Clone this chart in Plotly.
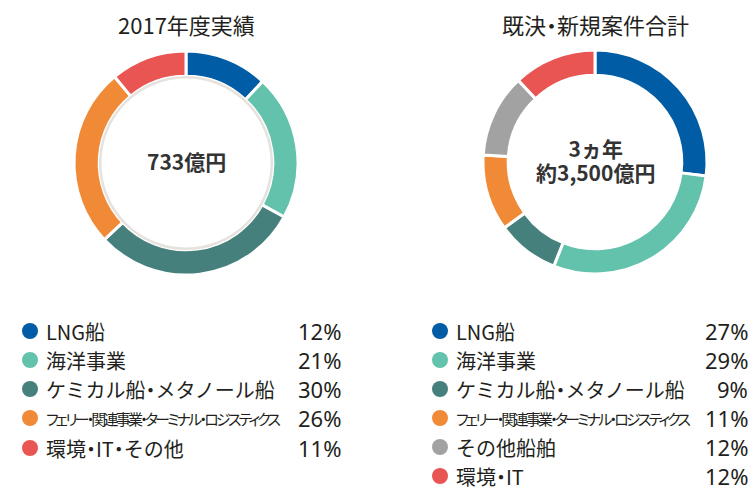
import plotly.graph_objects as go

W, H = 756, 490

# Segment data
cats_2017 = ["LNG船", "海洋事業", "ケミカル船・メタノール船",
             "フェリー・関連事業・ターミナル・ロジスティクス", "環境・IT・その他"]
vals_2017 = [12, 21, 30, 26, 11]
cols_2017 = ["#005DA5", "#63C2AC", "#46807C", "#F08A37", "#E85552"]

cats_plan = ["LNG船", "海洋事業", "ケミカル船・メタノール船",
             "フェリー・関連事業・ターミナル・ロジスティクス", "その他船舶", "環境・IT"]
vals_plan = [27, 29, 9, 11, 12, 12]
cols_plan = ["#005DA5", "#63C2AC", "#46807C", "#F08A37", "#A1A2A1", "#E85552"]

titles = ["2017年度実績", "既決・新規案件合計"]
centers = [["733億円"], ["3ヵ年", "約3,500億円"]]

JP = "Noto Sans CJK JP"
INK = "#231F20"


def fx(x):
    return x / W


def fy(y):
    return 1 - y / H


def narrow_dots(s):
    # proportional middle dot, as set in the printed layout
    return s.replace("・", "<span style=\"font-feature-settings:'palt'\">・</span>")


R = 112
HOLE = 0.775
donuts = [(186, 163), (595, 162)]

fig = go.Figure()
for (cx, cy), cats, vals, cols in [(donuts[0], cats_2017, vals_2017, cols_2017),
                                   (donuts[1], cats_plan, vals_plan, cols_plan)]:
    fig.add_trace(go.Pie(
        labels=cats, values=vals, sort=False, direction="clockwise", rotation=0,
        hole=HOLE, textinfo="none", hoverinfo="label+percent",
        marker=dict(colors=cols, line=dict(color="white", width=3)),
        domain=dict(x=[fx(cx - R), fx(cx + R)], y=[fy(cy + R), fy(cy - R)]),
        showlegend=False,
    ))

shapes = []
annotations = []

# faint inner rim on the first ring
cx, cy = donuts[0]
ri = R * HOLE - 1
shapes.append(dict(type="circle", xref="paper", yref="paper",
                   x0=fx(cx - ri), x1=fx(cx + ri), y0=fy(cy + ri), y1=fy(cy - ri),
                   line=dict(color="#E6E2DE", width=2.5), fillcolor="rgba(0,0,0,0)"))

# titles and centre captions
for (cx, cy), t, lines in zip(donuts, titles, centers):
    annotations.append(dict(x=fx(cx), y=fy(24), xref="paper", yref="paper",
                            text=narrow_dots(t), showarrow=False,
                            xanchor="center", yanchor="middle",
                            font=dict(family=JP, size=22, color=INK)))
    # base size sets the line pitch (~24px); glyphs drawn at 21px
    body = "<br>".join(f"<span style=\"font-size:21px\"><b>{ln}</b></span>" for ln in lines)
    annotations.append(dict(x=fx(cx), y=fy(cy - 2), xref="paper", yref="paper",
                            text=body, showarrow=False,
                            xanchor="center", yanchor="middle",
                            font=dict(family=JP, size=18.5, color="#333333")))


def label_html(name):
    if len(name) > 14:
        return ("<span style=\"font-size:15px;letter-spacing:-2.8px;"
                "font-feature-settings:'palt'\">" + name + "</span>")
    return narrow_dots(name)


legends = [
    (cats_2017, vals_2017, cols_2017, 30, 343, [331, 360, 389, 418, 448]),
    (cats_plan, vals_plan, cols_plan, 440, 750, [331, 360, 389, 418, 447, 476]),
]
for cats, vals, cols, dot_x, pct_x, rows in legends:
    for name, v, col, y in zip(cats, vals, cols, rows):
        r = 8
        shapes.append(dict(type="circle", xref="paper", yref="paper",
                           x0=fx(dot_x - r), x1=fx(dot_x + r),
                           y0=fy(y + r), y1=fy(y - r),
                           fillcolor=col, line=dict(width=0)))
        annotations.append(dict(x=fx(dot_x + 14), y=fy(y), xref="paper", yref="paper",
                                text=label_html(name), showarrow=False,
                                xanchor="left", yanchor="middle",
                                font=dict(family=JP, size=20, color=INK)))
        annotations.append(dict(x=fx(pct_x), y=fy(y), xref="paper", yref="paper",
                                text=f"{v}%", showarrow=False,
                                xanchor="right", yanchor="middle",
                                font=dict(family="Noto Sans", size=22, color=INK)))

fig.update_layout(
    width=W, height=H, margin=dict(l=0, r=0, t=0, b=0),
    paper_bgcolor="white", plot_bgcolor="white",
    shapes=shapes, annotations=annotations,
)

fig.write_html("out.html")
